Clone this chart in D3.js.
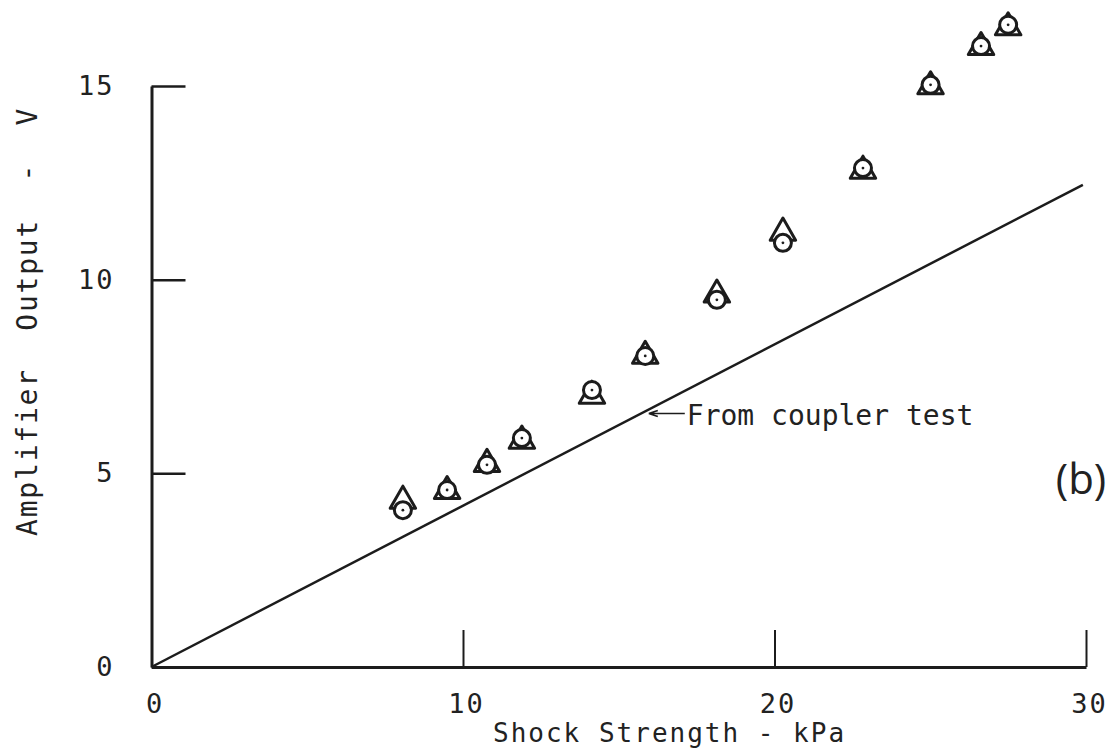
<!DOCTYPE html>
<html>
<head>
<meta charset="utf-8">
<script src="https://cdn.jsdelivr.net/npm/d3@7"></script>
<style>
  body { margin: 0; background: #fff; }
  svg text { font-family: "DejaVu Sans Mono", monospace; fill: #222; white-space: pre; }
</style>
</head>
<body>
<svg id="chart" width="1114" height="753"></svg>
<script>
// shock strength (kPa) for each measured point
const shock = [8.07, 9.49, 10.77, 11.89, 14.14, 15.85, 18.15, 20.27, 22.84, 25.01, 26.63, 27.5];
// circle series, amplifier output (V)
const circleOut = [4.05, 4.57, 5.22, 5.91, 7.15, 8.03, 9.48, 10.95, 12.88, 15.03, 16.03, 16.58];
// triangle series, amplifier output (V)
const triangleOut = [4.29, 4.54, 5.24, 5.84, 7.0, 8.03, 9.61, 11.21, 12.81, 14.99, 16.0, 16.51];
// straight calibration line from the coupler test
const couplerX = [0, 29.9];
const couplerY = [0, 12.45];
const xTicks = [0, 10, 20, 30];
const yTicks = [0, 5, 10, 15];
const arrowAt = 15.9;

const svg = d3.select('#chart');
const ink = '#1c1c1c';

const x = d3.scaleLinear().domain([0, 30]).range([151.5, 1086]);
const y = d3.scaleLinear().domain([0, 15]).range([667, 86]);

// y axis, ticks pointing into the plot
const yAxis = svg.append('g')
    .attr('transform', 'translate(' + x(0) + ',0)')
    .call(d3.axisLeft(y).tickValues(yTicks).tickSizeInner(-34).tickSizeOuter(0).tickPadding(37));
yAxis.select('.domain').attr('stroke', ink).attr('stroke-width', 3);
yAxis.selectAll('.tick line').attr('stroke', ink).attr('stroke-width', 2.5);
yAxis.selectAll('.tick text')
    .attr('font-size', 27).attr('letter-spacing', 2).attr('fill', ink)
    .style('font-family', '"DejaVu Sans Mono", monospace');

// x axis
const xAxis = svg.append('g')
    .attr('transform', 'translate(0,' + y(0) + ')')
    .call(d3.axisBottom(x).tickValues(xTicks).tickSizeInner(-37).tickSizeOuter(0).tickPadding(0));
xAxis.select('.domain').attr('stroke', ink).attr('stroke-width', 3);
xAxis.selectAll('.tick line').attr('stroke', ink).attr('stroke-width', 2);
xAxis.selectAll('.tick text')
    .attr('y', 46).attr('dy', 0).attr('dx', 3)
    .attr('font-size', 27).attr('letter-spacing', 2).attr('fill', ink)
    .style('font-family', '"DejaVu Sans Mono", monospace');

// axis titles
svg.append('text')
    .attr('x', 493).attr('y', 742)
    .attr('font-size', 26).attr('letter-spacing', 2)
    .text('Shock Strength - kPa');

svg.append('text')
    .attr('transform', 'translate(37,536) rotate(-90)')
    .attr('font-size', 28).attr('letter-spacing', 1.8)
    .text('Amplifier  Output  -  V');

// coupler test line
svg.append('line')
    .attr('x1', x(couplerX[0])).attr('y1', y(couplerY[0]))
    .attr('x2', x(couplerX[1])).attr('y2', y(couplerY[1]))
    .attr('stroke', ink).attr('stroke-width', 2.5);

// arrow pointing at the line
const slope = couplerY[1] / couplerX[1];
const ax = x(arrowAt) + 2;
const ay = y(arrowAt * slope) + 3;
svg.append('path')
    .attr('d', 'M' + ax + ',' + ay + 'H' + (ax + 36) +
        'M' + ax + ',' + ay + 'l9,-3M' + ax + ',' + ay + 'l9,3')
    .attr('fill', 'none').attr('stroke', ink).attr('stroke-width', 1.6);

svg.append('text')
    .attr('x', ax + 38).attr('y', ay + 11)
    .attr('font-size', 28).attr('letter-spacing', 0)
    .text('From coupler test');

svg.append('text')
    .attr('x', 1081).attr('y', 494)
    .attr('text-anchor', 'middle')
    .attr('font-size', 42)
    .style('font-family', '"Open Sans", "DejaVu Sans", sans-serif')
    .text('(b)');

// data markers
const points = shock.map((s, i) => ({ s: s, c: circleOut[i], t: triangleOut[i] }));

svg.append('g').selectAll('path')
    .data(points)
    .enter()
    .append('path')
    .attr('d', d3.symbol().type(d3.symbolTriangle).size(280))
    .attr('transform', (d) => 'translate(' + x(d.s) + ',' + y(d.t) + ')')
    .attr('fill', 'none').attr('stroke', ink).attr('stroke-width', 3)
    .attr('stroke-linejoin', 'round');

svg.append('g').selectAll('circle')
    .data(points)
    .enter()
    .append('circle')
    .attr('cx', (d) => x(d.s)).attr('cy', (d) => y(d.c))
    .attr('r', 8.5)
    .attr('fill', '#fff').attr('stroke', ink).attr('stroke-width', 3);

svg.append('g').selectAll('circle')
    .data(points)
    .enter()
    .append('circle')
    .attr('cx', (d) => x(d.s)).attr('cy', (d) => y(d.c))
    .attr('r', 1.4)
    .attr('fill', ink);
</script>
</body>
</html>
